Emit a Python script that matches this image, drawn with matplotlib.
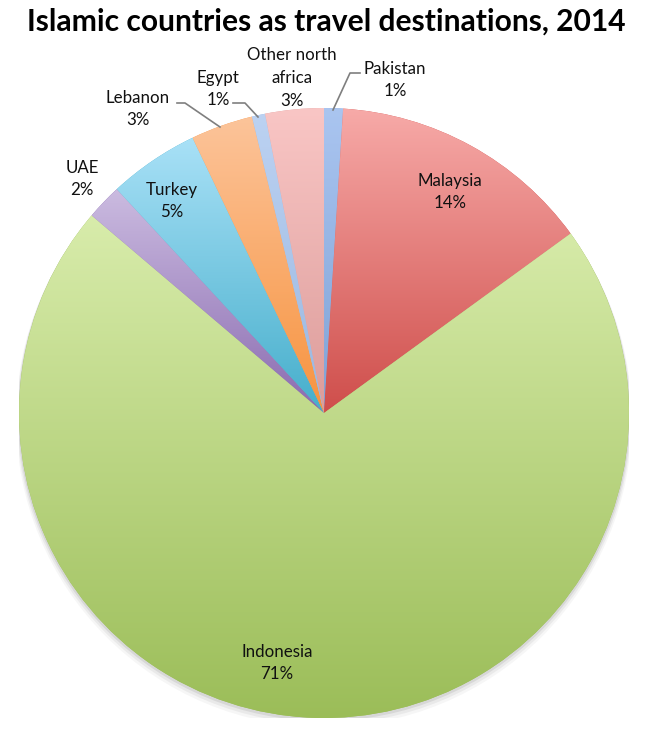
import numpy as np
import matplotlib
matplotlib.use("Agg")
import matplotlib.pyplot as plt
from matplotlib.colors import LinearSegmentedColormap
from matplotlib.patches import Circle

# ---- data ----
countries = ["Pakistan", "Malaysia", "Indonesia", "UAE", "Turkey",
             "Lebanon", "Egypt", "Other north\nafrica"]
shares = [1.0, 14.0, 71.3, 1.9, 4.8, 3.3, 0.7, 3.1]
# gradient colours (top light, bottom dark)
top_colors = ["#aac5f0", "#f7aaa8", "#d8ecab", "#cbbbe0", "#a9e1f7",
              "#fcc49a", "#bcd2f2", "#f9c6c5"]
bottom_colors = ["#7fa2d6", "#cf4e4b", "#9bbd58", "#8a6bb0", "#45aecb",
                 "#f7933f", "#9ab7e0", "#dc9c9a"]
title = "Islamic countries as travel destinations, 2014"

# label positions in pixel coordinates (x, y from top) and leader lines
label_px = {
    "Pakistan": (395, 80),
    "Malaysia": (450, 192),
    "Indonesia": (277, 663),
    "UAE": (82, 179),
    "Turkey": (172, 201),
    "Lebanon": (138, 109),
    "Egypt": (218, 89),
    "Other north\nafrica": (292, 78),
}
leaders = {
    "Pakistan": [(360, 73), (350, 73), (333, 110)],
    "Egypt": [(233, 103), (245, 103), (258, 117)],
    "Lebanon": [(177, 103), (185, 103), (220, 127)],
}

W, H = 660, 737
fig = plt.figure(figsize=(W / 100, H / 100), dpi=100)
fig.patch.set_facecolor("white")

cx, cy, r = 324, 413, 305
ax = fig.add_axes([(cx - r) / W, (H - cy - r) / H, 2 * r / W, 2 * r / H])
ax.set_xlim(-1, 1)
ax.set_ylim(-1, 1)
ax.set_aspect("auto")
ax.axis("off")

# shadow
for k, a in [(6, 0.05), (4, 0.08), (2, 0.12)]:
    ax.add_patch(Circle((0, -k / r), 1.0 + k / (2 * r), facecolor="#555555",
                        edgecolor="none", alpha=a, zorder=0))

wedges, _ = ax.pie(shares, startangle=90, counterclock=False, radius=1.0,
                   wedgeprops=dict(linewidth=0, edgecolor="none"))
ax.set_xlim(-1, 1)
ax.set_ylim(-1, 1)

grad = np.linspace(0, 1, 256).reshape(-1, 1)
for w, ct, cb in zip(wedges, top_colors, bottom_colors):
    w.set_facecolor(cb)
    verts = w.get_path().vertices
    x0, x1 = verts[:, 0].min(), verts[:, 0].max()
    y0, y1 = verts[:, 1].min(), verts[:, 1].max()
    cmap = LinearSegmentedColormap.from_list("g", [cb, ct])
    im = ax.imshow(grad, cmap=cmap, extent=[x0, x1, y0, y1], origin="lower",
                   aspect="auto", zorder=2, interpolation="bilinear")
    im.set_clip_path(w)

ax.set_xlim(-1, 1)
ax.set_ylim(-1, 1)

total = sum(shares)
font = ["Lato", "DejaVu Sans"]
for name, val in zip(countries, shares):
    px, py = label_px[name]
    pct = round(val / total * 100)
    fig.text(px / W, 1 - py / H, f"{name}\n{pct}%", ha="center", va="center",
             fontsize=12.2, family=font, color="#111111", linespacing=1.5)

for name, pts in leaders.items():
    xs = [p[0] / W for p in pts]
    ys = [1 - p[1] / H for p in pts]
    fig.add_artist(plt.Line2D(xs, ys, color="#7f7f7f", lw=1.2,
                              transform=fig.transFigure))

fig.text(326 / W, 1 - 22 / H, title, ha="center", va="center",
         fontsize=21.6, fontweight="bold", family=font, color="black")

fig.savefig("out.png", dpi=100, facecolor="white")
